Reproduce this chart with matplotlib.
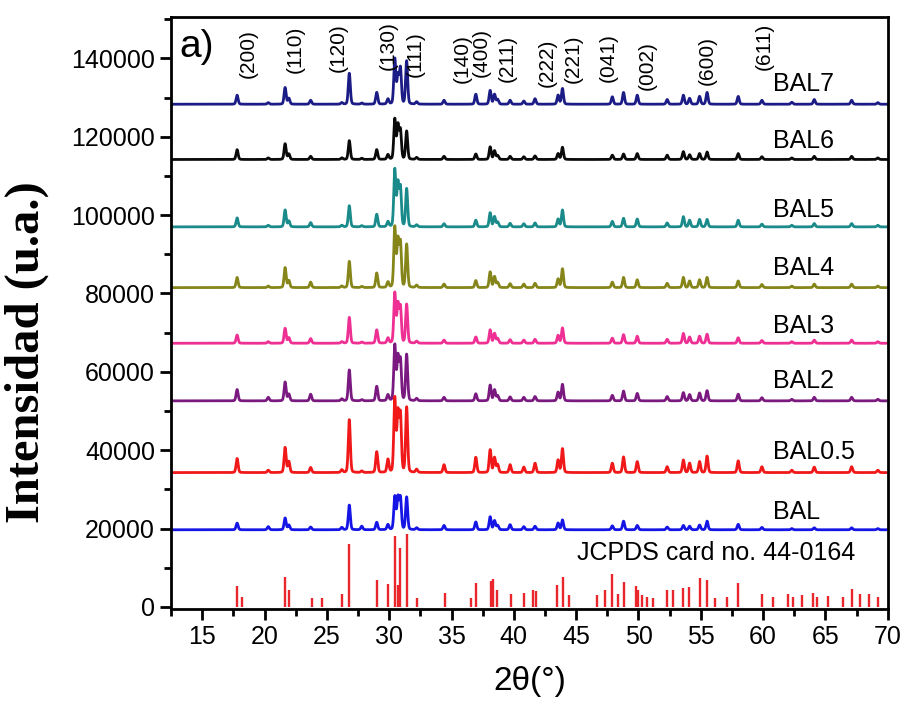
import numpy as np
import matplotlib
matplotlib.use("Agg")
import matplotlib.pyplot as plt

# peak positions (2theta) shared by all samples, heights read per sample (counts above baseline)
peaks_2theta = [17.8, 20.3, 21.65, 21.95, 23.7, 26.2, 26.8, 27.8, 29.0, 29.9, 30.45, 30.7, 30.9, 31.4,
                32.2, 34.4, 36.95, 38.1, 38.45, 38.7, 39.7, 40.8, 41.7, 43.55, 43.9, 47.9, 48.8, 49.9,
                52.3, 53.6, 54.1, 54.9, 55.5, 58.0, 59.9, 62.3, 64.1, 67.1, 69.2]

bal7 = [2300, 400, 4250, 1500, 1000, 400, 7900, 300, 3000, 1300, 11500, 7000, 9000, 11000,
        600, 1000, 2550, 3500, 2500, 1200, 1000, 800, 1400, 2300, 4000, 1900, 3000, 2300,
        1200, 2300, 1500, 2000, 3000, 2000, 1000, 500, 1200, 1000, 400]
bal6 = [2500, 400, 4000, 1400, 800, 400, 4800, 300, 2500, 1200, 10200, 8500, 7300, 7200,
        500, 800, 1400, 3200, 2200, 1000, 800, 700, 900, 1500, 3100, 1100, 1400, 1500,
        1100, 2000, 1200, 1500, 1900, 1500, 700, 400, 800, 800, 400]
bal5 = [2300, 400, 4300, 1500, 1100, 400, 5400, 300, 3200, 1300, 14500, 10800, 9800, 9700,
        500, 800, 1700, 3600, 2600, 1200, 900, 800, 1000, 2000, 4300, 1400, 2200, 2000,
        1000, 2600, 1700, 1900, 1900, 1700, 700, 400, 850, 850, 400]
bal4 = [2600, 400, 5100, 1800, 1400, 400, 6700, 300, 3700, 1400, 15300, 11800, 11200, 11000,
        600, 900, 1800, 4000, 2800, 1300, 1000, 900, 1100, 2200, 4800, 1400, 2600, 2000,
        1100, 2600, 1700, 2000, 2600, 1700, 800, 400, 900, 900, 400]
bal3 = [2100, 400, 3800, 1400, 1200, 400, 6600, 300, 3400, 1300, 12700, 9600, 9000, 9900,
        500, 800, 1600, 3400, 2500, 1200, 900, 800, 1000, 2000, 3900, 1300, 2200, 1800,
        1000, 2500, 1600, 1800, 2300, 1400, 700, 400, 800, 800, 400]
bal2 = [2900, 900, 4800, 1700, 1700, 500, 7900, 300, 3700, 1500, 14100, 10900, 10200, 11800,
        600, 900, 1800, 4000, 2800, 1300, 1000, 900, 1100, 2200, 4200, 1400, 2500, 1900,
        1100, 2100, 1600, 2000, 2600, 1700, 800, 400, 900, 900, 400]
bal05 = [3600, 600, 6400, 2800, 1300, 700, 13500, 400, 5300, 3300, 18800, 14800, 14500, 16600,
         800, 2000, 3900, 5800, 3800, 2000, 2000, 1400, 2400, 3200, 6100, 2400, 4000, 2800,
         1500, 3200, 2400, 2800, 4200, 3000, 1500, 600, 1400, 1500, 600]
bal = [1700, 800, 3000, 1200, 700, 600, 6300, 900, 1900, 1300, 8400, 8000, 8000, 8300,
       500, 1100, 2000, 3300, 2300, 1100, 1300, 800, 900, 1700, 2500, 1000, 2200, 1100,
       700, 1100, 900, 1200, 2200, 1400, 600, 300, 500, 500, 300]

sample_names = ['BAL7', 'BAL6', 'BAL5', 'BAL4', 'BAL3', 'BAL2', 'BAL0.5', 'BAL']
sample_heights = [bal7, bal6, bal5, bal4, bal3, bal2, bal05, bal]
baselines = [128300, 114200, 97000, 81500, 67300, 52600, 34300, 19700]
label_y = [133500, 118900, 101300, 86500, 71600, 57600, 39500, 24200]
colors = ['#1c1c86', '#0a0a0a', '#1a8a8a', '#85851a', '#ee2f93', '#7a1a80', '#f01818', '#1515e6']

# JCPDS 44-0164 reference lines
jcpds_pos = [17.83, 18.21, 21.63, 21.95, 23.77, 24.62, 26.23, 26.81, 29.06, 29.94, 30.48, 30.69,
             30.88, 31.41, 32.22, 34.49, 36.55, 36.97, 38.15, 38.36, 38.68, 39.75, 40.82, 41.57,
             41.78, 43.44, 43.92, 44.46, 46.65, 47.32, 47.85, 48.39, 48.84, 49.80, 49.99, 50.26,
             50.66, 51.19, 52.27, 52.80, 53.60, 54.08, 54.94, 55.52, 56.14, 57.08, 58.01, 59.88,
             60.82, 62.02, 62.42, 63.09, 64.02, 64.29, 65.22, 66.43, 67.10, 67.77, 68.52, 69.24]
jcpds_int = [5300, 2500, 7600, 4400, 2300, 2300, 3400, 16200, 6800, 5800, 18000, 5500,
             15000, 18500, 2400, 3600, 2400, 6100, 6600, 7100, 4400, 3400, 3500, 4400,
             4100, 5500, 7600, 3000, 3000, 4400, 8500, 3400, 6400, 5300, 4400, 3000,
             2500, 2400, 4300, 4300, 4900, 5100, 7500, 7000, 2400, 2500, 6000, 3400,
             2500, 3400, 2500, 3000, 3600, 2500, 2700, 2500, 4700, 3200, 3200, 2500]

hkl_labels = ['(200)', '(110)', '(120)', '(130)', '(111)', '(140)', '(400)', '(211)',
              '(222)', '(221)', '(041)', '(002)', '(600)', '(611)']
hkl_x = [18.7, 22.5, 25.9, 29.9, 32.1, 35.9, 37.4, 39.5, 42.7, 44.8, 47.6, 50.7, 55.5, 60.1]
hkl_y = [135000, 136300, 136600, 137100, 135300, 133800, 135300, 134000, 132700, 133800,
         134000, 132000, 133300, 137100]


def profile(x, heights, fwhm=0.19):
    y = np.zeros_like(x)
    for p, h in zip(peaks_2theta, heights):
        d = (x - p) / fwhm
        y += h * (0.8 * np.exp(-4 * np.log(2) * d ** 2) + 0.2 / (1 + 4 * d ** 2))
    return y


sans = ['Liberation Sans', 'DejaVu Sans']
plt.rcParams['font.family'] = sans

fig = plt.figure(figsize=(9.05, 7.02), dpi=100)
ax = fig.add_axes([0.189, 0.132, 0.792, 0.844])

x = np.linspace(12.5, 70, 5000)
for name, h, base, ly, c in zip(sample_names, sample_heights, baselines, label_y, colors):
    ax.plot(x, base + profile(x, h), color=c, lw=2)
    ax.text(60.8, ly, name, fontsize=18, va='center', ha='left')

ax.vlines(jcpds_pos, 0, jcpds_int, color='#e8262c', lw=1.7)
ax.text(45.1, 13700, 'JCPDS card no. 44-0164', fontsize=18, va='center', ha='left')

for lab, hx, hy in zip(hkl_labels, hkl_x, hkl_y):
    ax.text(hx, hy, lab, rotation=90, fontsize=15, ha='center', va='bottom')

ax.text(13.2, 143000, 'a)', fontsize=28, va='center', ha='left')

ax.set_xlim(12.5, 70)
ax.set_ylim(-600, 150600)
ax.set_xticks(np.arange(15, 71, 5))
ax.set_xticks(np.arange(12.5, 70.1, 2.5), minor=True)
ax.set_yticks(np.arange(0, 140001, 20000))
ax.set_yticks(np.arange(0, 150001, 10000), minor=True)
ax.tick_params(which='major', direction='out', length=8, width=2, labelsize=18)
ax.tick_params(which='minor', direction='out', length=5, width=2)
for s in ax.spines.values():
    s.set_linewidth(2)

ax.set_xlabel('2θ(°)', fontsize=24, labelpad=12)
ax.set_ylabel('Intensidad (u.a.)', fontsize=35, family='Liberation Serif', fontweight='bold')
ax.yaxis.set_label_coords(-0.17, 0.434)

fig.savefig('out.png', dpi=100)
